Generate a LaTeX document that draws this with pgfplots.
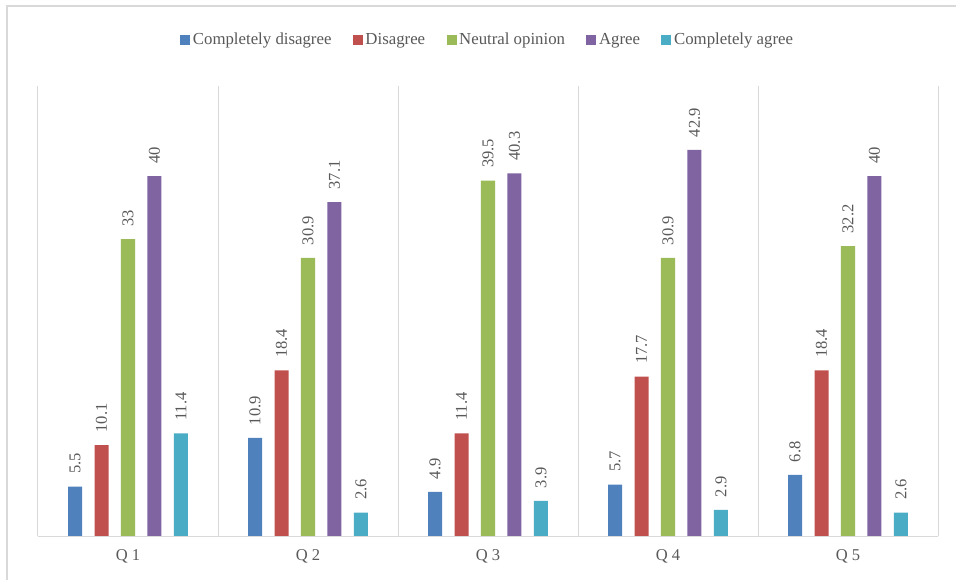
\documentclass[border=0pt]{standalone}
\usepackage{pgfplots}
\pgfplotsset{compat=1.18}
\usepackage{fontspec}
\setmainfont{Liberation Serif}
\definecolor{c1}{HTML}{4F81BD}
\definecolor{c2}{HTML}{C0504D}
\definecolor{c3}{HTML}{9BBB59}
\definecolor{c4}{HTML}{8064A2}
\definecolor{c5}{HTML}{4BACC6}
\definecolor{gridc}{HTML}{D9D9D9}
\definecolor{txt}{HTML}{595959}
\pgfplotstableread{
x a b c d e
0 5.5 10.1 33 40 11.4
1 10.9 18.4 30.9 37.1 2.6
2 4.9 11.4 39.5 40.3 3.9
3 5.7 17.7 30.9 42.9 2.9
4 6.8 18.4 32.2 40 2.6
}\datatable
\begin{document}
\begin{tikzpicture}
\path[use as bounding box] (-28.5pt,-32.25pt) rectangle (688.5pt,402pt);
\draw[gridc, line width=1.2pt] (-23.25pt,-40pt) -- (-23.25pt,397.5pt) -- (700pt,397.5pt);
\begin{axis}[
  scale only axis,
  width=675pt, height=337.5pt,
  xmin=-0.5, xmax=4.5, ymin=0, ymax=50,
  ybar, bar width=0.078,
  axis line style={draw=none},
  xtick={0,1,2,3,4},
  xticklabels={Q 1,Q 2,Q 3,Q 4,Q 5},
  x tick label style={text=txt, font=\fontsize{12.4}{14}\selectfont, yshift=-7pt},
  minor xtick={-0.5,0.5,1.5,2.5,3.5,4.5},
  minor x grid style={gridc, line width=0.75pt},
  xminorgrids=true,
  major tick length=0pt, minor tick length=0pt,
  ytick=\empty,
  /pgf/number format/assume math mode=true,
  nodes near coords,
  every node near coord/.append style={rotate=90, anchor=west, text=txt, font=\fontsize{12.4}{14}\selectfont, xshift=6pt},
  legend style={at={(0.5,1.102)}, anchor=center, draw=none, legend columns=5, font=\fontsize{12.6}{14}\selectfont, text=txt, /tikz/every even column/.append style={column sep=14pt}, /tikz/every odd column/.append style={column sep=0pt}},
  legend image code/.code={\fill[#1] (0pt,-3.75pt) rectangle (7.5pt,3.75pt);},
]
\addplot[fill=c1, draw=none, bar shift=-0.294] table[x=x,y=a]{\datatable};
\addplot[fill=c2, draw=none, bar shift=-0.147] table[x=x,y=b]{\datatable};
\addplot[fill=c3, draw=none, bar shift=0] table[x=x,y=c]{\datatable};
\addplot[fill=c4, draw=none, bar shift=0.147] table[x=x,y=d]{\datatable};
\addplot[fill=c5, draw=none, bar shift=0.294] table[x=x,y=e]{\datatable};
\legend{Completely disagree,Disagree,Neutral opinion,Agree,Completely agree}
\draw[gridc, line width=0.75pt] (rel axis cs:0,0) -- (rel axis cs:1,0);
\end{axis}
\end{tikzpicture}
\end{document}
